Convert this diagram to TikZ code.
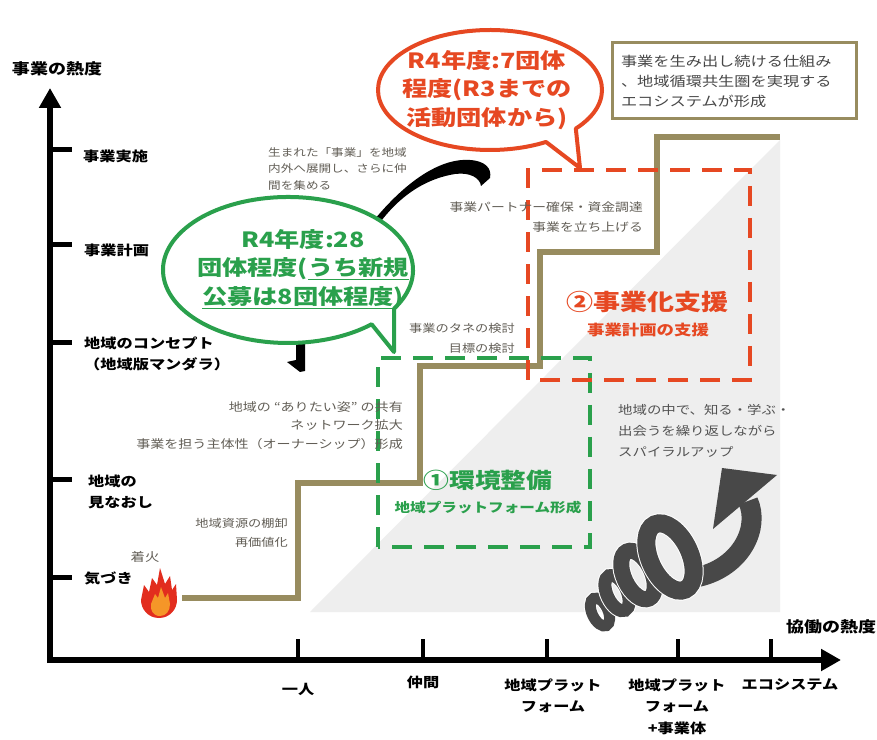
\documentclass[tikz,border=0pt]{standalone}
\usepackage{fontspec}
\setmainfont{Noto Sans CJK JP}[FakeStretch=1.2]
\usetikzlibrary{arrows.meta}

\definecolor{stairolive}{RGB}{152,140,95}
\definecolor{envgreen}{RGB}{42,160,76}
\definecolor{bizred}{RGB}{230,72,34}
\definecolor{notegray}{RGB}{98,94,86}
\definecolor{areagray}{RGB}{238,238,238}
\definecolor{coilgray}{RGB}{72,72,72}
\definecolor{fired}{RGB}{226,45,30}
\definecolor{fireorange}{RGB}{245,150,40}

\newcommand{\axisfont}{\fontsize{13.5}{21.5}\selectfont\bfseries}
\newcommand{\titlefont}{\fontsize{15}{18}\selectfont\bfseries}
\newcommand{\notefont}{\fontsize{10.5}{16.5}\selectfont}
\newcommand{\bubblefont}{\fontsize{21}{28.5}\selectfont\bfseries}

\begin{document}
\begin{tikzpicture}[x=1pt, y=1pt,
    axis/.style={line width=6pt, -{Triangle[length=20pt, width=21pt]}},
    ytick/.style={line width=5pt},
    xtick/.style={line width=4pt},
    lbl/.style={inner sep=0pt, font=\axisfont, align=center},
    note/.style={inner sep=0pt, text=notegray, font=\notefont},
    stair/.style={line width=6pt, stairolive, line join=miter},
    envbox/.style={envgreen, line width=3.5pt, dash pattern=on 20pt off 12pt},
    bizbox/.style={bizred, line width=3.5pt, dash pattern=on 20pt off 12pt},
    bubble/.style={fill=white, line width=4pt, line join=round},
    bubbletext/.style={inner sep=0pt, font=\bubblefont, align=center},
    coil/.style={coilgray, line width=#1, preaction={draw=white, line width=#1+2pt}},
    ecobox/.style={draw=stairolive, line width=3pt, text=black!72, fill=white,
        text width=226pt, inner xsep=9pt, minimum height=76pt, align=left,
        font=\fontsize{13.5}{20}\selectfont}
  ]
  \useasboundingbox (0,0) rectangle (877,739);
  \fill[white] (0,0) rectangle (877,739);

  \fill[areagray] (310,127) -- (780,127) -- (780,599) -- cycle;

  \coordinate (fire) at (182,141);
  \draw[stair] (fire) -- (298,141) -- (298,256) -- (420,256) -- (420,373)
    -- (540,373) -- (540,487) -- (657,487) -- (657,602) -- (780,602);

  \draw[envbox] (378,192) rectangle (590,381);
  \draw[bizbox] (528,359) rectangle (750,569);

  % swoosh and arrow end behind the green bubble
  \fill[black] (370,514) .. controls (410,564) and (445,581) .. (470,579)
    .. controls (485,578) and (492,571) .. (490,561) -- (481,553)
    .. controls (480,561) and (470,567) .. (455,565)
    .. controls (430,561) and (400,547) .. (374,508) -- cycle;
  \fill[black] (296,402) -- (305,402) -- (305,368) -- (300,367) -- (287,377)
    -- (296,379) -- cycle;

  \path[bubble, draw=envgreen] (288,469) ++(-32:125 and 73)
    arc[start angle=-32, end angle=312, x radius=125, y radius=73]
    -- (394,387) -- cycle;
  \path[bubble, draw=bizred] (490,649) ++(-40:112 and 60)
    arc[start angle=-40, end angle=300, x radius=112, y radius=60]
    -- (580,571) -- cycle;

  \node[bubbletext, text=envgreen] (green_msg) at (303,470)
    {R4年度:28\\団体程度(\underline{うち新規}\\\underline{公募は8団体程度})};
  \node[bubbletext, text=bizred] (red_msg) at (487,649)
    {R4年度:7団体\\程度(R3までの\\活動団体から)};

  \node[ecobox] (eco_note) at (734,658)
    {事業を生み出し続ける仕組み\\、地域循環共生圏を実現する\\エコシステムが形成};

  \node[note, anchor=west, align=left] (note_expand) at (268,570.5)
    {生まれた「事業」を地域\\内外へ展開し、さらに仲\\間を集める};
  \node[note, anchor=east, align=right, font=\fontsize{11.5}{20}\selectfont] (note_partner) at (643,522)
    {事業パートナー確保・資金調達\\事業を立ち上げる};
  \node[note, anchor=east, align=right, font=\fontsize{11}{20}\selectfont] (note_seed) at (515,401)
    {事業のタネの検討\\目標の検討};
  \node[note, anchor=east, align=right, font=\fontsize{11.7}{18.5}\selectfont] (note_share) at (403,313.5)
    {地域の “ありたい姿” の共有\\ネットワーク拡大\\事業を担う主体性（オーナーシップ）形成};
  \node[note, anchor=east, align=right, font=\fontsize{11}{19}\selectfont] (note_resource) at (288,206.5)
    {地域資源の棚卸\\再価値化};
  \node[note, font=\fontsize{12}{14}\selectfont] (note_fire) at (145,182) {着火};
  \node[note, anchor=west, align=left, text=black!68, font=\fontsize{12}{21}\selectfont] (note_spiral) at (618,308)
    {地域の中で、知る・学ぶ・\\出会うを繰り返しながら\\スパイラルアップ};

  \node[inner sep=0pt, text=envgreen, font=\fontsize{21.5}{24}\selectfont\bfseries] (env_title) at (488,259) {①環境整備};
  \node[inner sep=0pt, text=envgreen, font=\fontsize{13}{16}\selectfont\bfseries] (env_sub) at (488,231) {地域プラットフォーム形成};
  \node[inner sep=0pt, text=bizred, font=\fontsize{22.5}{25}\selectfont\bfseries] (biz_title) at (647,437) {②事業化支援};
  \node[inner sep=0pt, text=bizred, font=\fontsize{14.5}{17}\selectfont\bfseries] (biz_sub) at (648,409) {事業計画の支援};

  % spiral up
  \draw[line width=20pt, coilgray] (698,162) .. controls (742,172) and (760,212) .. (748,238);
  \fill[coilgray] (722,271) -- (777,264) -- (713,210) -- cycle;
  \draw[coil=11pt, rotate around={115:(600,127)}] (600,127) ellipse [x radius=15, y radius=8];
  \draw[coil=13pt, rotate around={115:(617,146)}] (617,146) ellipse [x radius=19, y radius=10];
  \draw[coil=16pt, rotate around={115:(638,164)}] (638,164) ellipse [x radius=26, y radius=14];
  \draw[coil=18pt, rotate around={115:(670,182)}] (670,182) ellipse [x radius=36, y radius=20];

  % fire
  \fill[fired] (159,121) .. controls (148,121) and (141,130) .. (141,139) -- (144,154)
    -- (149,147) -- (152,161) -- (157,154) -- (160,171) -- (165,155) -- (170,163)
    -- (172,149) -- (176,155) -- (177,139) .. controls (177,130) and (170,121) .. (159,121) -- cycle;
  \fill[fireorange] (160,123) .. controls (153,123) and (150,129) .. (151,135) -- (155,145)
    -- (158,141) -- (161,152) -- (165,141) -- (168,146) -- (170,135)
    .. controls (170,128) and (166,123) .. (160,123) -- cycle;

  % axes
  \coordinate (origin) at (50,79);
  \coordinate (y_end) at (50,651);
  \coordinate (x_end) at (841,79);
  \draw[axis] ([yshift=-3pt]origin) -- (y_end);
  \draw[axis] ([xshift=-3pt]origin) -- (x_end);

  \draw[ytick] (50,589) -- ++(22,0);
  \draw[ytick] (50,494) -- ++(22,0);
  \draw[ytick] (50,396) -- ++(22,0);
  \draw[ytick] (50,259) -- ++(22,0);
  \draw[ytick] (50,162) -- ++(22,0);

  \draw[xtick] (298,79) -- ++(0,21);
  \draw[xtick] (423,79) -- ++(0,21);
  \draw[xtick] (547,79) -- ++(0,21);
  \draw[xtick] (678,79) -- ++(0,21);
  \draw[xtick] (771,79) -- ++(0,21);

  \node[lbl, font=\titlefont] (y_title) at (57,670) {事業の熱度};
  \node[lbl, font=\titlefont] (x_title) at (831,112) {協働の熱度};

  \node[lbl, anchor=west] (lbl_y_5) at (83,583) {事業実施};
  \node[lbl, anchor=west] (lbl_y_4) at (84,489) {事業計画};
  \node[lbl, anchor=west, align=left] (lbl_y_3) at (84,385) {地域のコンセプト\\（地域版マンダラ）};
  \node[lbl, anchor=west, align=left] (lbl_y_2) at (88,247) {地域の\\見なおし};
  \node[lbl, anchor=west] (lbl_y_1) at (84,161) {気づき};

  \node[lbl] (lbl_x_1) at (298,50) {一人};
  \node[lbl] (lbl_x_2) at (423,57) {仲間};
  \node[lbl] (lbl_x_3) at (553,43) {地域プラット\\フォーム};
  \node[lbl] (lbl_x_4) at (677,32.5) {地域プラット\\フォーム\\+事業体};
  \node[lbl] (lbl_x_5) at (790,54) {エコシステム};
\end{tikzpicture}
\end{document}
